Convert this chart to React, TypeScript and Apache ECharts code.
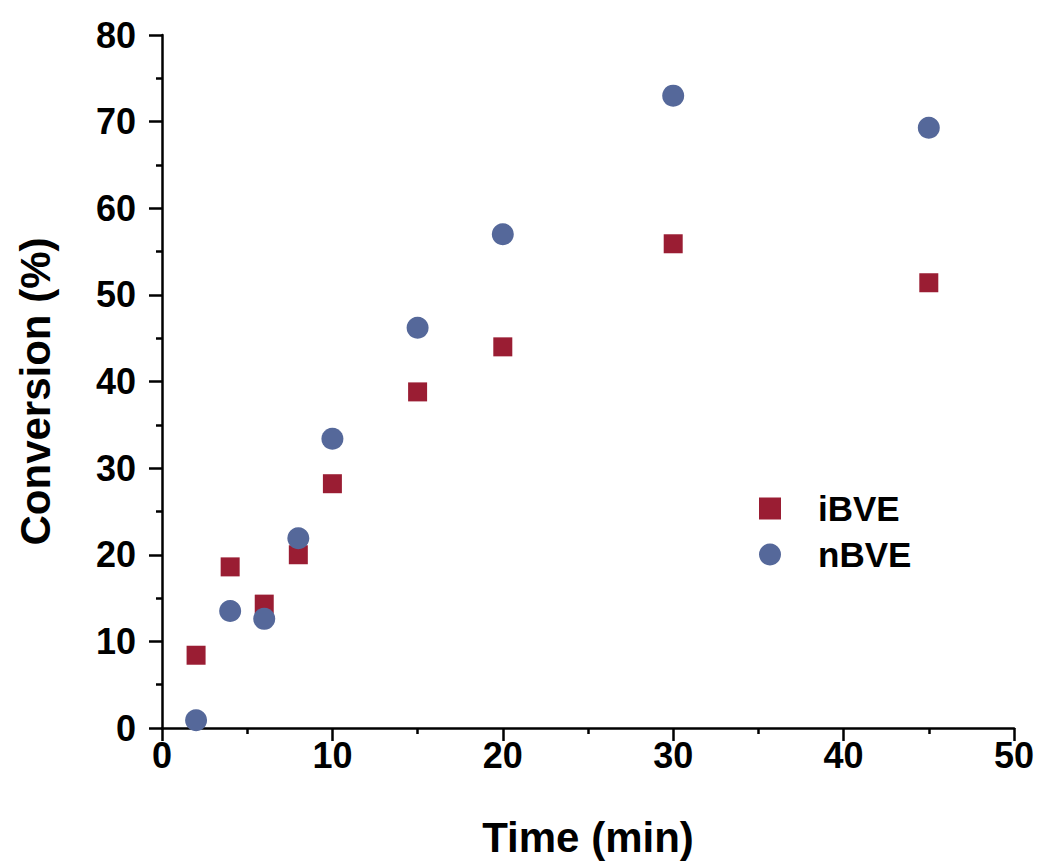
import React, { useEffect, useRef } from "react";
import * as echarts from "echarts";

const timeMin = [2, 4, 6, 8, 10, 15, 20, 30, 45];
const iBVE = [8.4, 18.6, 14.3, 20.0, 28.2, 38.8, 44.0, 55.9, 51.4];
const nBVE = [0.9, 13.5, 12.6, 21.9, 33.4, 46.2, 57.0, 73.0, 69.3];
const seriesNames = ["iBVE", "nBVE"];

const FONT = '"Liberation Sans", Arial, sans-serif';

export default function App() {
  const ref = useRef<HTMLDivElement>(null);
  useEffect(() => {
    if (!ref.current) return;
    const chart = echarts.init(ref.current, null, { renderer: "svg" });
    const pair = (ys: number[]) => timeMin.map((x, i) => [x, ys[i]]);
    const axisCommon = {
      axisLine: { show: true, onZero: false, lineStyle: { color: "#000", width: 2.5 } },
      axisTick: { show: true, inside: false, length: 13, lineStyle: { color: "#000", width: 2.5 } },
      minorTick: { show: true, splitNumber: 2, length: 6, lineStyle: { color: "#000", width: 2.5 } },
      splitLine: { show: false },
      minorSplitLine: { show: false },
      nameTextStyle: { fontFamily: FONT, fontWeight: "bold", fontSize: 42, color: "#000" },
      axisLabel: { fontFamily: FONT, fontWeight: "bold", fontSize: 36, color: "#000" },
    };
    chart.setOption({
      animation: false,
      backgroundColor: "#fff",
      grid: { left: 162, top: 35, right: 27, bottom: 137, containLabel: false },
      xAxis: {
        type: "value",
        min: 0,
        max: 50,
        interval: 10,
        name: "Time (min)",
        nameLocation: "middle",
        nameGap: 88,
        ...axisCommon,
        axisLabel: { ...axisCommon.axisLabel, margin: 9 },
      },
      yAxis: {
        type: "value",
        min: 0,
        max: 80,
        interval: 10,
        name: "Conversion (%)",
        nameLocation: "middle",
        nameGap: 106,
        ...axisCommon,
        nameTextStyle: { ...axisCommon.nameTextStyle, padding: [0, 20, 0, 0] },
        axisLabel: { ...axisCommon.axisLabel, margin: 26 },
      },
      legend: {
        orient: "vertical",
        left: 754,
        top: 486,
        itemWidth: 22,
        itemHeight: 22,
        itemGap: 11,
        data: seriesNames,
        textStyle: { fontFamily: FONT, fontWeight: "bold", fontSize: 35, color: "#000", padding: [0, 0, 0, 32] },
      },
      series: [
        {
          name: seriesNames[0],
          type: "scatter",
          symbol: "rect",
          symbolSize: 19,
          itemStyle: { color: "#9a1d33", opacity: 1 },
          data: pair(iBVE),
          z: 2,
        },
        {
          name: seriesNames[1],
          type: "scatter",
          symbol: "circle",
          symbolSize: 22,
          itemStyle: { color: "#55689a", opacity: 1 },
          data: pair(nBVE),
          z: 3,
        },
      ],
    });
    return () => chart.dispose();
  }, []);
  return (
    <div
      ref={ref}
      style={{ position: "fixed", left: 0, top: 0, width: 1041, height: 865, background: "#fff" }}
    />
  );
}
